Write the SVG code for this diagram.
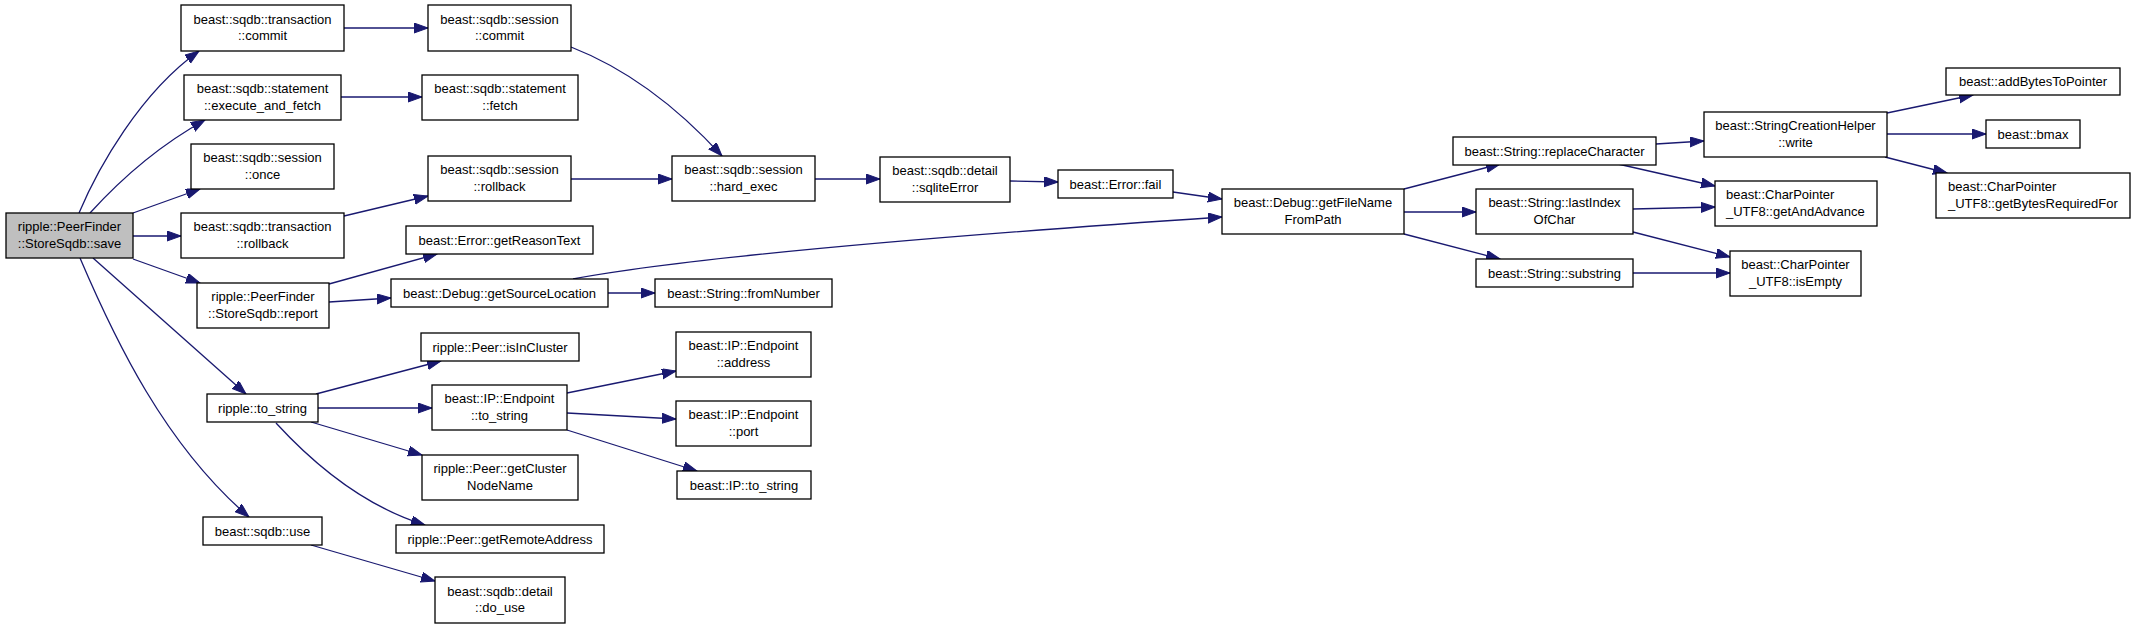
<svg xmlns="http://www.w3.org/2000/svg" width="2136" height="628" viewBox="0 0 2136 628">
<style>
.n rect{fill:#fff;stroke:#000;stroke-width:1.3}
.n.cur rect{fill:#bfbfbf}
.n text{font-family:"Liberation Sans",Arial,sans-serif;font-size:13px;fill:#000;text-anchor:middle}
.n text.l{text-anchor:start}
#edges path{fill:none;stroke:#191970;stroke-width:1.3;marker-end:url(#ah)}
</style>
<defs>
<marker id="ah" markerUnits="userSpaceOnUse" markerWidth="15" markerHeight="11" refX="14" refY="5" orient="auto" viewBox="0 0 15 11">
<path d="M0,0 L14,5 L0,10 z" fill="#191970" stroke="#191970" stroke-width="1"/>
</marker>
</defs>
<rect width="2136" height="628" fill="#fff"/>
<g id="edges">
<path d="M79,213 C98,168 140,93 199,51"/>
<path d="M90,213 C120,180 160,145 205,120"/>
<path d="M133,213 L200,189"/>
<path d="M133,236 L181,236"/>
<path d="M133,259 L200,283"/>
<path d="M93,258 L246,394"/>
<path d="M80,258 C115,340 165,445 249,517"/>
<path d="M344,28 L428,28"/>
<path d="M341,97 L422,97"/>
<path d="M344,216 L428,196"/>
<path d="M329,284 L437,254"/>
<path d="M329,302 L391,298"/>
<path d="M608,293 L655,293"/>
<path d="M573,279 C700,255 1000,232 1222,217"/>
<path d="M571,47 C630,70 680,110 722,156"/>
<path d="M571,179 L672,179"/>
<path d="M815,179 L880,179"/>
<path d="M1010,181 L1058,182"/>
<path d="M1173,192 L1222,199"/>
<path d="M1404,189 L1500,164"/>
<path d="M1404,212 L1476,212"/>
<path d="M1404,234 L1500,259"/>
<path d="M1656,144 L1704,141"/>
<path d="M1618,164 L1715,186"/>
<path d="M1633,209 L1715,207"/>
<path d="M1633,232 L1730,257"/>
<path d="M1633,273 L1730,273"/>
<path d="M1887,113 L1973,95"/>
<path d="M1887,134 L1986,134"/>
<path d="M1885,157 L1947,173"/>
<path d="M316,394 L441,361"/>
<path d="M318,408 L432,408"/>
<path d="M311,422 L422,455"/>
<path d="M276,423 C310,460 360,505 425,525"/>
<path d="M567,393 L676,371"/>
<path d="M567,413 L676,419"/>
<path d="M567,430 L697,471"/>
<path d="M311,545 L435,581"/>
</g>
<g id="save" class="n cur"><rect x="6" y="213" width="127" height="45"/><text x="69.5" y="231">ripple::PeerFinder</text><text x="69.5" y="247.5">::StoreSqdb::save</text></g>
<g id="tcommit" class="n"><rect x="181" y="5" width="163" height="46"/><text x="262.5" y="23.5">beast::sqdb::transaction</text><text x="262.5" y="40">::commit</text></g>
<g id="execfetch" class="n"><rect x="184" y="75" width="157" height="45"/><text x="262.5" y="93">beast::sqdb::statement</text><text x="262.5" y="109.5">::execute_and_fetch</text></g>
<g id="once" class="n"><rect x="191" y="144" width="143" height="45"/><text x="262.5" y="162">beast::sqdb::session</text><text x="262.5" y="178.5">::once</text></g>
<g id="trollback" class="n"><rect x="181" y="213" width="163" height="45"/><text x="262.5" y="231">beast::sqdb::transaction</text><text x="262.5" y="247.5">::rollback</text></g>
<g id="report" class="n"><rect x="197" y="283" width="132" height="45"/><text x="263" y="301">ripple::PeerFinder</text><text x="263" y="317.5">::StoreSqdb::report</text></g>
<g id="tostring" class="n"><rect x="207" y="394" width="111" height="28"/><text x="262.5" y="412.5">ripple::to_string</text></g>
<g id="use" class="n"><rect x="203" y="517" width="119" height="28"/><text x="262.5" y="535.5">beast::sqdb::use</text></g>
<g id="scommit" class="n"><rect x="428" y="5" width="143" height="46"/><text x="499.5" y="23.5">beast::sqdb::session</text><text x="499.5" y="40">::commit</text></g>
<g id="fetch" class="n"><rect x="422" y="75" width="156" height="45"/><text x="500" y="93">beast::sqdb::statement</text><text x="500" y="109.5">::fetch</text></g>
<g id="srollback" class="n"><rect x="428" y="156" width="143" height="45"/><text x="499.5" y="174">beast::sqdb::session</text><text x="499.5" y="190.5">::rollback</text></g>
<g id="hardexec" class="n"><rect x="672" y="156" width="143" height="45"/><text x="743.5" y="174">beast::sqdb::session</text><text x="743.5" y="190.5">::hard_exec</text></g>
<g id="reason" class="n"><rect x="406" y="226" width="187" height="28"/><text x="499.5" y="244.5">beast::Error::getReasonText</text></g>
<g id="srcloc" class="n"><rect x="391" y="279" width="217" height="28"/><text x="499.5" y="297.5">beast::Debug::getSourceLocation</text></g>
<g id="fromnum" class="n"><rect x="655" y="279" width="177" height="28"/><text x="743.5" y="297.5">beast::String::fromNumber</text></g>
<g id="isincluster" class="n"><rect x="421" y="333" width="158" height="28"/><text x="500" y="351.5">ripple::Peer::isInCluster</text></g>
<g id="eptostring" class="n"><rect x="432" y="385" width="135" height="45"/><text x="499.5" y="403">beast::IP::Endpoint</text><text x="499.5" y="419.5">::to_string</text></g>
<g id="clustername" class="n"><rect x="422" y="455" width="156" height="45"/><text x="500" y="473">ripple::Peer::getCluster</text><text x="500" y="489.5">NodeName</text></g>
<g id="remote" class="n"><rect x="396" y="525" width="208" height="28"/><text x="500" y="543.5">ripple::Peer::getRemoteAddress</text></g>
<g id="douse" class="n"><rect x="435" y="577" width="130" height="46"/><text x="500" y="595.5">beast::sqdb::detail</text><text x="500" y="612">::do_use</text></g>
<g id="address" class="n"><rect x="676" y="332" width="135" height="45"/><text x="743.5" y="350">beast::IP::Endpoint</text><text x="743.5" y="366.5">::address</text></g>
<g id="port" class="n"><rect x="676" y="401" width="135" height="45"/><text x="743.5" y="419">beast::IP::Endpoint</text><text x="743.5" y="435.5">::port</text></g>
<g id="iptostring" class="n"><rect x="677" y="471" width="134" height="28"/><text x="744" y="489.5">beast::IP::to_string</text></g>
<g id="sqliteerror" class="n"><rect x="880" y="157" width="130" height="45"/><text x="945" y="175">beast::sqdb::detail</text><text x="945" y="191.5">::sqliteError</text></g>
<g id="fail" class="n"><rect x="1058" y="170" width="115" height="28"/><text x="1115.5" y="188.5">beast::Error::fail</text></g>
<g id="filename" class="n"><rect x="1222" y="189" width="182" height="45"/><text x="1313" y="207">beast::Debug::getFileName</text><text x="1313" y="223.5">FromPath</text></g>
<g id="replace" class="n"><rect x="1453" y="137" width="203" height="28"/><text x="1554.5" y="155.5">beast::String::replaceCharacter</text></g>
<g id="lastindex" class="n"><rect x="1476" y="189" width="157" height="45"/><text x="1554.5" y="207">beast::String::lastIndex</text><text x="1554.5" y="223.5">OfChar</text></g>
<g id="substring" class="n"><rect x="1476" y="259" width="157" height="28"/><text x="1554.5" y="277.5">beast::String::substring</text></g>
<g id="write" class="n"><rect x="1704" y="112" width="183" height="45"/><text x="1795.5" y="130">beast::StringCreationHelper</text><text x="1795.5" y="146.5">::write</text></g>
<g id="getandadvance" class="n"><rect x="1715" y="181" width="162" height="45"/><text class="l" x="1726" y="199">beast::CharPointer</text><text class="l" x="1726" y="215.5">_UTF8::getAndAdvance</text></g>
<g id="isempty" class="n"><rect x="1730" y="251" width="131" height="45"/><text x="1795.5" y="269">beast::CharPointer</text><text x="1795.5" y="285.5">_UTF8::isEmpty</text></g>
<g id="addbytes" class="n"><rect x="1946" y="68" width="174" height="27"/><text x="2033" y="86">beast::addBytesToPointer</text></g>
<g id="bmax" class="n"><rect x="1986" y="120" width="94" height="28"/><text x="2033" y="138.5">beast::bmax</text></g>
<g id="bytesreq" class="n"><rect x="1936" y="173" width="194" height="45"/><text class="l" x="1948" y="191">beast::CharPointer</text><text class="l" x="1948" y="207.5">_UTF8::getBytesRequiredFor</text></g>
</svg>
